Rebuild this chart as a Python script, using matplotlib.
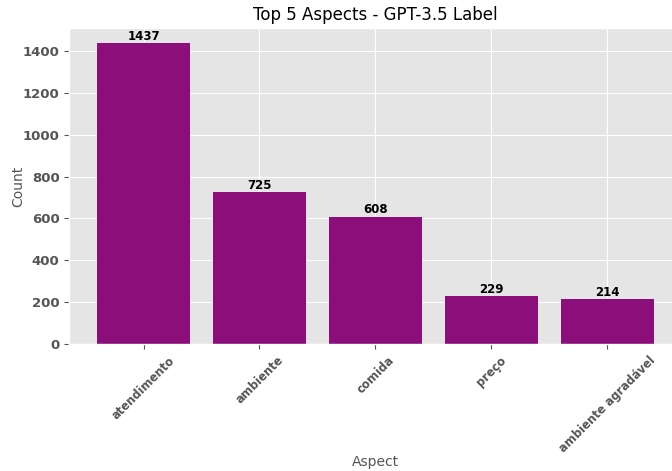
import matplotlib
matplotlib.use("Agg")
import matplotlib.pyplot as plt

plt.style.use("ggplot")

# top aspects and their counts
aspects = ["atendimento", "ambiente", "comida", "preço", "ambiente agradável"]
counts = [1437, 725, 608, 229, 214]

fig = plt.figure(figsize=(6.72, 4.71), dpi=100)
ax = fig.add_axes([0.1031, 0.2696, 0.9113, 0.6705])

bars = ax.bar(aspects, counts, color="#8B0E7A", width=0.8)

# value labels on top of bars
for b, c in zip(bars, counts):
    ax.text(b.get_x() + b.get_width() / 2, b.get_height() + 2, str(c),
            ha="center", va="bottom", fontsize=8.5, fontweight="bold", color="black")

ax.set_title("Top 5 Aspects - GPT-3.5 Label", fontsize=12, color="black")
ax.set_xlabel("Aspect", fontsize=10)
ax.set_ylabel("Count", fontsize=10)
ax.xaxis.set_label_coords(0.5, -0.35)
ax.yaxis.set_label_coords(-0.072, 0.5)
plt.setp(ax.get_xticklabels(), rotation=45, fontweight="bold", fontsize=8.3)
plt.setp(ax.get_yticklabels(), fontweight="bold", fontsize=9.5)

fig.savefig("out.png", dpi=100)
